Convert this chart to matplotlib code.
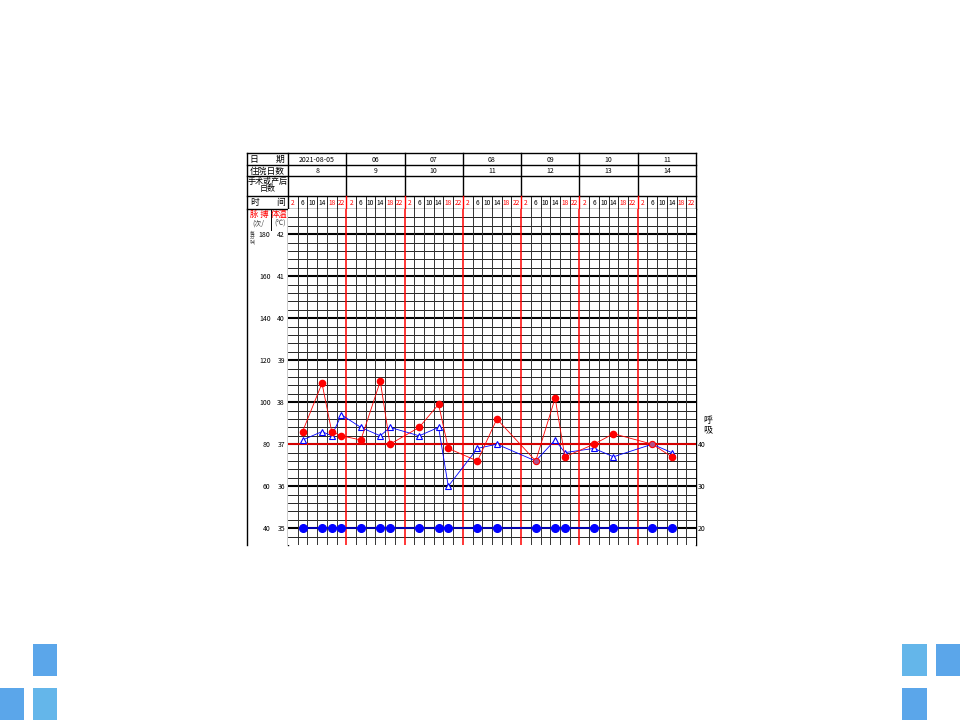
import numpy as np
import matplotlib
matplotlib.use("Agg")
import matplotlib.pyplot as plt
from matplotlib.patches import Rectangle

plt.rcParams['font.family'] = ['Noto Sans CJK SC', 'DejaVu Sans']

# header content
dates = ["2021-08-05", "06", "07", "08", "09", "10", "11"]
stay_days = [8, 9, 10, 11, 12, 13, 14]
hours = [2, 6, 10, 14, 18, 22]
hour_colors = ["red", "black", "black", "black", "red", "red"]

# observations: day index + hour of the reading
obs_day = [0, 0, 0, 0, 1, 1, 1, 2, 2, 2, 3, 3, 4, 4, 4, 5, 5, 6, 6]
obs_hour = [6, 14, 18, 22, 6, 14, 18, 6, 14, 18, 6, 14, 6, 14, 18, 6, 14, 6, 14]
temperature = [37.1, 37.3, 37.2, 37.7, 37.4, 37.2, 37.4, 37.2, 37.4, 36.0,
               36.9, 37.0, 36.6, 37.1, 36.8, 36.9, 36.7, 37.0, 36.8]
pulse = [86, 109, 86, 84, 82, 110, 80, 88, 99, 78,
         72, 92, 72, 102, 74, 80, 85, 80, 74]
respiration = [20, 20, 20, 20, 20, 20, 20, 20, 20, 20,
               20, 20, 20, 20, 20, 20, 20, 20, 20]

temp_ticks = [35, 36, 37, 38, 39, 40, 41, 42]
pulse_ticks = [40, 60, 80, 100, 120, 140, 160, 180]
resp_ticks = [20, 30, 40]

# layout in pixels (figure is 960x720)
W, H = 960, 720
LX, X0, X1 = 247, 288, 696
rows_y = [153, 165, 176, 196, 209]
Y_BOT = 545
ndays = len(dates)
ncols = ndays * len(hours)
day_w = (X1 - X0) / ndays
col_w = (X1 - X0) / ncols

fig = plt.figure(figsize=(9.6, 7.2), dpi=100)
fig.patch.set_facecolor("white")

# overlay in pixel coordinates for the header / frame / decorations
ov = fig.add_axes([0, 0, 1, 1])
ov.set_xlim(0, W)
ov.set_ylim(H, 0)
ov.axis('off')

# decorative squares
light, dark = "#64b6ea", "#5ba6ea"
for (x, y, w, h, c) in [(33, 644, 24, 32, dark), (0, 688, 24, 32, dark), (33, 688, 24, 32, light),
                        (902, 644, 25, 32, light), (936, 644, 24, 32, dark), (902, 688, 25, 32, dark)]:
    ov.add_patch(Rectangle((x, y), w, h, facecolor=c, edgecolor="none"))

# header frame
for y in rows_y:
    ov.plot([LX, X1], [y, y], color="black", lw=1.0)
for x in [LX, X0, X1]:
    ov.plot([x, x], [rows_y[0], Y_BOT], color="black", lw=1.0)
for k in range(1, ndays):
    xd = X0 + k * day_w
    ov.plot([xd, xd], [rows_y[0], rows_y[3]], color="black", lw=1.0)
for i in range(1, ncols):
    xc = X0 + i * col_w
    ov.plot([xc, xc], [rows_y[3], rows_y[4]], color="red" if i % 6 == 0 else "black",
            lw=1.0 if i % 6 == 0 else 0.6)
ov.plot([271, 271], [rows_y[4], 230], color="black", lw=0.7)

# header texts
lab_x = (LX + X0) / 2
ov.text(254, 159.5, "日", ha="center", va="center", fontsize=6.3)
ov.text(280, 159.5, "期", ha="center", va="center", fontsize=6.3)
ov.text(lab_x, 171, "住院日数", ha="center", va="center", fontsize=6.3)
ov.text(lab_x, 181.5, "手术或产后", ha="center", va="center", fontsize=5.8)
ov.text(lab_x, 189, "日数", ha="center", va="center", fontsize=5.8)
ov.text(255, 203, "时", ha="center", va="center", fontsize=6.3)
ov.text(281, 203, "间", ha="center", va="center", fontsize=6.3)
for k in range(ndays):
    xm = X0 + (k + 0.5) * day_w
    ov.text(xm, 159.5, dates[k], ha="center", va="center", fontsize=5)
    ov.text(xm, 171, str(stay_days[k]), ha="center", va="center", fontsize=5)
    for j, hr in enumerate(hours):
        xc = X0 + (k * 6 + j + 0.5) * col_w
        ov.text(xc, 203, str(hr), ha="center", va="center", fontsize=4.8,
                color=hour_colors[j])

ov.text(259, 214.5, "脉 搏", ha="center", va="center", fontsize=6, color="red")
ov.text(279.5, 214.5, "体温", ha="center", va="center", fontsize=6, color="red")
ov.text(258, 224, "(次/", ha="center", va="center", fontsize=5, color="#444444")
ov.text(280, 224, "(℃)", ha="center", va="center", fontsize=5, color="#444444")
ov.text(252.5, 238, "每\n分\n钟)", ha="center", va="center", fontsize=3.4, color="#444444",
        linespacing=0.9)
ov.text(708, 425, "呼\n吸", ha="center", va="center", fontsize=6.5, linespacing=1.0)

# main chart grid
ax = fig.add_axes([X0 / W, 1 - Y_BOT / H, (X1 - X0) / W, (Y_BOT - rows_y[4]) / H])
t_lo, t_hi = 34.6, 42.6
ax.set_xlim(0, ncols)
ax.set_ylim(t_lo, t_hi)
for s in ax.spines.values():
    s.set_visible(False)

for v in np.arange(t_lo + 0.2, t_hi - 0.1, 0.2):
    major = abs(v - round(v)) < 1e-6
    ax.axhline(v, color="black", lw=1.5 if major else 0.6, zorder=1)
for i in range(1, ncols):
    if i % 6 == 0:
        ax.axvline(i, color="red", lw=1.1, zorder=2)
    else:
        ax.axvline(i, color="#333333", lw=0.7, zorder=1)
ax.axhline(37, color="red", lw=1.2, zorder=2)

ax.set_xticks([])
ax.set_yticks(temp_ticks)
ax.set_yticklabels([str(t) for t in temp_ticks])
ax.tick_params(axis="y", length=0, pad=2.2, labelsize=5)

x = np.array(obs_day) * len(hours) + np.array(obs_hour) // 4 + 0.5
temp = np.array(temperature)
pul = np.array(pulse)
resp = np.array(respiration)
same = np.isclose((pul - 40) / 20 + 35, temp)

ax.plot(x, temp, color="#0000ff", lw=0.6, zorder=4)
ax.plot(x[~same], temp[~same], linestyle="none", marker="^", ms=5, mfc="white",
        mec="#0000ff", mew=0.8, zorder=5)

# pulse on its own scale
axp = ax.twinx()
axp.set_ylim((t_lo - 35) * 20 + 40, (t_hi - 35) * 20 + 40)
for s in axp.spines.values():
    s.set_visible(False)
axp.yaxis.tick_left()
axp.set_yticks(pulse_ticks)
axp.tick_params(axis="y", length=0, pad=12.5, labelsize=5)
axp.plot(x, pul, color="#ff0000", lw=0.6, zorder=4)
axp.plot(x[~same], pul[~same], linestyle="none", marker="o", ms=5.5, color="#ff0000",
         mew=0, zorder=5)
axp.plot(x[same], pul[same], linestyle="none", marker="o", ms=4.5, mfc="#b0508a",
         mec="#ff0000", mew=0.8, zorder=5)

# respiration on its own scale
axr = ax.twinx()
axr.set_ylim((t_lo - 37) * 10 + 40, (t_hi - 37) * 10 + 40)
for s in axr.spines.values():
    s.set_visible(False)
axr.set_yticks(resp_ticks)
axr.tick_params(axis="y", length=0, pad=1, labelsize=5)
axr.plot(x, resp, color="#0000cc", lw=1.2, marker="o", ms=5.5, mfc="#0000ff",
         mec="#0000ff", zorder=5)

fig.savefig("out.png", dpi=100, facecolor="white")
